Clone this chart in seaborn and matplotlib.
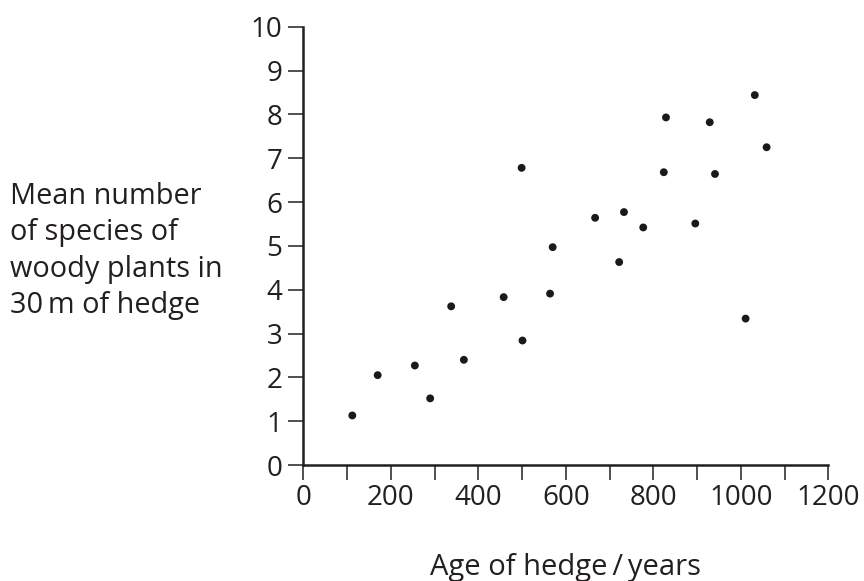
import numpy as np
import pandas as pd
import matplotlib
matplotlib.use("Agg")
import matplotlib.pyplot as plt
import seaborn as sns

age_years = [112, 170, 255, 290, 338, 367, 458, 499, 501, 564, 570,
             667, 733, 722, 777, 829, 824, 929, 941, 896, 1032, 1059, 1011]
mean_species = [1.13, 2.05, 2.27, 1.52, 3.62, 2.40, 3.83, 6.78, 2.84, 3.91, 4.97,
                5.64, 5.77, 4.63, 5.42, 7.93, 6.68, 7.82, 6.64, 5.51, 8.44, 7.25, 3.34]
x_major = [0, 200, 400, 600, 800, 1000, 1200]
x_minor = [100, 300, 500, 700, 900, 1100]
y_ticks = list(range(0, 11))

df = pd.DataFrame({"age": age_years, "species": mean_species})

sns.set_theme(style="white")
plt.rcParams['font.family'] = ['Open Sans', 'DejaVu Sans']

FS = 20
TXT = "#231f20"
fig = plt.figure(figsize=(8.64, 5.81), dpi=100)
ax = fig.add_axes([303.3/864, 1 - 465/581, 525/864, (465 - 26.7)/581])

sns.scatterplot(data=df, x="age", y="species", ax=ax, color="#1a1a1a",
                s=32, edgecolor="none", linewidth=0, legend=False)

ax.set_xlim(0, 1200)
ax.set_ylim(0, 10)
ax.set_xticks(x_major)
ax.set_xticks(x_minor, minor=True)
ax.set_yticks(y_ticks)
ax.set_xticklabels([str(v) for v in x_major], fontsize=FS, color=TXT)
ax.set_yticklabels([str(v) for v in y_ticks], fontsize=FS, color=TXT)
ax.tick_params(axis="both", which="both", direction="out", length=11,
               width=1.1, color=TXT)
ax.tick_params(axis="x", which="both", bottom=True, pad=3)
ax.tick_params(axis="y", which="both", left=True, pad=4)

for side in ["top", "right"]:
    ax.spines[side].set_visible(False)
for side in ["left", "bottom"]:
    ax.spines[side].set_linewidth(1.8)
    ax.spines[side].set_color(TXT)

ax.set_xlabel("")
ax.set_ylabel("")

fig.text(565/864, 1 - 575/581, "Age of hedge\u2009/\u2009years", ha="center",
         va="baseline", fontsize=21, color=TXT)
fig.text(10/864, 1 - 313/581,
         "Mean number\nof species of\nwoody plants in\n30\u2009m of hedge",
         ha="left", va="baseline", fontsize=20.8, color=TXT, linespacing=1.33)

fig.savefig("out.png", dpi=100)
